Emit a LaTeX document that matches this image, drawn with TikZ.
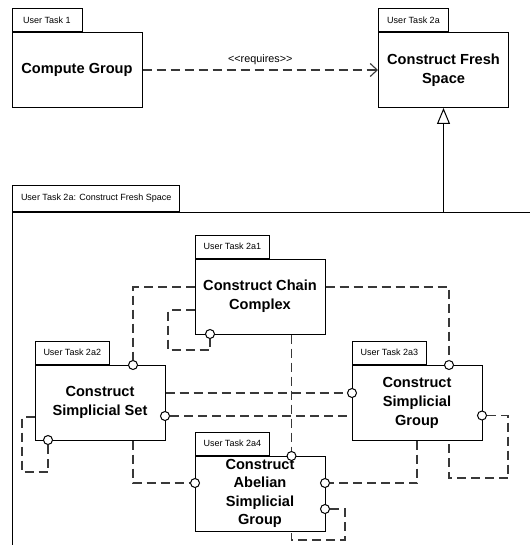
\documentclass[tikz,border=0pt]{standalone}
\usepackage{fontspec}
\setmainfont{Liberation Sans}
\usetikzlibrary{arrows.meta,calc}
\begin{document}
\begin{tikzpicture}[x=1pt,y=-1pt,
  body/.style={draw, line width=1pt, fill=white, minimum width=130pt, minimum height=75pt,
    align=center, inner sep=0pt, font=\fontsize{14.6}{19}\selectfont\bfseries},
  tab/.style={draw, line width=1pt, fill=white, minimum width=70pt, minimum height=23pt,
    inner xsep=8.5pt, inner ysep=0pt, font=\fontsize{9}{11}\selectfont, anchor=south west},
  port/.style={circle, draw, line width=1pt, fill=white, minimum size=9pt, inner sep=0pt},
  dep/.style={draw=black!78, line width=1.25pt, dash pattern=on 9pt off 5pt},
]
\useasboundingbox (0,0) rectangle (529,545);

% enclosing package (open to the right and bottom)
\coordinate (cont) at (12,212);
\draw[line width=1pt] (12,560) -- (cont) -- (540,212);
\node[tab, minimum height=26pt] (contt) at (cont) {User Task 2a: Construct Fresh Space};

% top-level packages
\node[body] (cg)  at (77,70)    {Compute Group};
\node[tab]  (cgt) at (cg.north west) {User Task 1};
\node[body] (cfs) at (443.5,70) {Construct Fresh\\Space};
\node[tab]  (cfst) at (cfs.north west) {User Task 2a};

\draw[dep, -{Straight Barb[length=7pt,width=13pt,line width=1.1pt]}] (cg.east) -- (cfs.west)
  node[midway, above, yshift=1.5pt, font=\fontsize{10.8}{13}\selectfont] {<{}<requires>{}>};
\draw[line width=1pt, -{Triangle[open,length=16pt,width=13pt,fill=white]}]
  (cfs.south |- cont) -- (cfs.south);

% inner packages
\node[body] (cc)  at (260,296.5) {Construct Chain\\Complex};
\node[tab]  (cct) at (cc.north west) {User Task 2a1};
\node[body] (ss)  at (100,402.5) {Construct\\Simplicial Set};
\node[tab]  (sst) at (ss.north west) {User Task 2a2};
\node[body] (sg)  at (417,402.5) {Construct\\Simplicial\\Group};
\node[tab]  (sgt) at (sg.north west) {User Task 2a3};
\node[body, font=\fontsize{14.6}{18.5}\selectfont\bfseries] (asg) at (260,493.5)
  {Construct\\Abelian\\Simplicial\\Group};
\node[tab]  (asgt) at (asg.north west) {User Task 2a4};

% required interfaces
\node[port] (p1)  at (133,365) {};
\node[port] (p2)  at (449,365) {};
\node[port] (p3)  at (210,334) {};
\node[port] (p4)  at (291.5,456) {};
\node[port] (p5)  at (352,393) {};
\node[port] (p6)  at (165,416) {};
\node[port] (p7)  at (48,440) {};
\node[port] (p8)  at (195,483) {};
\node[port] (p9)  at (325,483) {};
\node[port] (p10) at (482,415.5) {};
\node[port] (p11) at (325,509) {};

% dependencies
\draw[dep] ([yshift=9.5pt]cc.west) -| (p1);
\draw[dep] ([yshift=9.5pt]cc.east) -| (p2);
\draw[dep] ([yshift=-13.5pt]cc.west) -| (168,350) -| (p3);
\draw[dep] (cc.south -| p4) -- (p4);
\draw[dep] ([yshift=9.5pt]ss.east) -- (p5);
\draw[dep] (p6) -- (p6 -| sg.west);
\draw[dep] ([yshift=-14.5pt]ss.west) -| (22,472) -| (p7);
\draw[dep] (ss.south -| p1) |- (p8);
\draw[dep] (sg.south) |- (p9);
\draw[dep] (p10) -| (508,478) -| (sg.south -| p2);
\draw[dep] (p11) -| (345,540) -| (asg.south -| p4);
\end{tikzpicture}
\end{document}
